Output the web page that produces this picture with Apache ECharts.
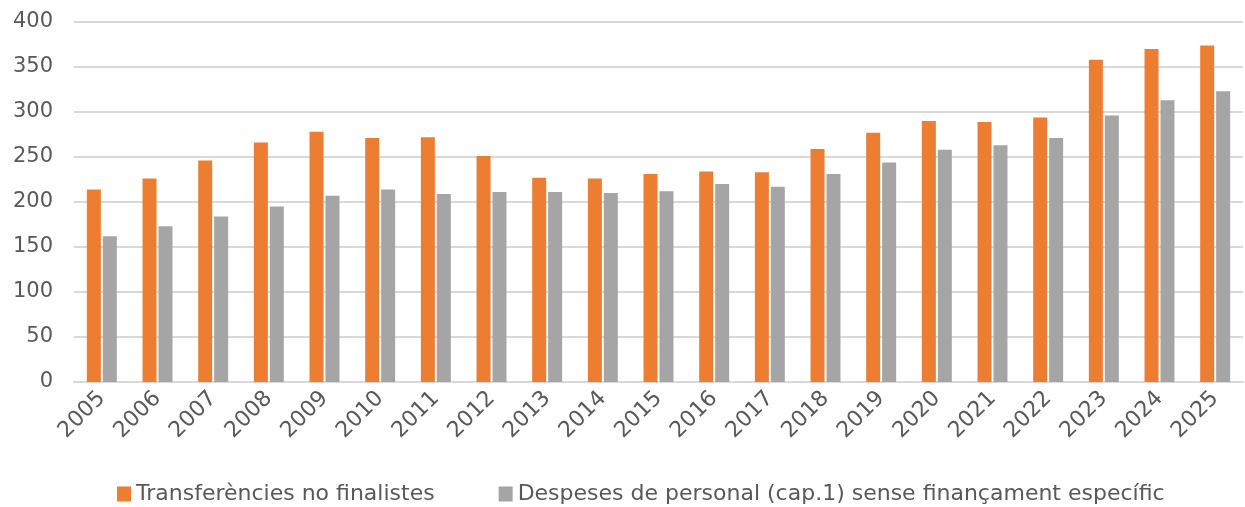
<!DOCTYPE html>
<html>
<head>
<meta charset="utf-8">
<script src="https://cdn.jsdelivr.net/npm/echarts@6/dist/echarts.min.js"></script>
<style>
  html, body { margin: 0; padding: 0; background: #fff; }
  #chart { width: 1245px; height: 507px; }
</style>
</head>
<body>
<div id="chart"></div>
<script>
// dades llegides del gràfic
var anys = ['2005','2006','2007','2008','2009','2010','2011','2012','2013','2014','2015',
            '2016','2017','2018','2019','2020','2021','2022','2023','2024','2025'];
var transferencies = [214, 226, 246, 266, 278, 271, 272, 251, 227, 226, 231,
                      234, 233, 259, 277, 290, 289, 294, 358, 370, 374];
var despesesPersonal = [162, 173, 184, 195, 207, 214, 209, 211, 211, 210, 212,
                        220, 217, 231, 244, 258, 263, 271, 296, 313, 323];
var nomsSeries = ['Transferències no finalistes',
                  'Despeses de personal (cap.1) sense finançament específic'];

var myChart = echarts.init(document.getElementById('chart'));
var font = 'DejaVu Sans';
var option = {
    animation: false,
    textStyle: { fontFamily: font },
    grid: { left: 74, right: 2, top: 22, bottom: 125 },
    legend: {
        top: 478,
        left: 112,
        itemWidth: 14,
        itemHeight: 15,
        itemGap: 64,
        icon: 'rect',
        textStyle: { fontSize: 22, color: '#595959', fontFamily: font },
        data: nomsSeries
    },
    xAxis: {
        type: 'category',
        data: anys,
        axisLine: { lineStyle: { color: '#d9d9d9', width: 2 } },
        axisTick: { show: false },
        axisLabel: { rotate: 45, fontSize: 22, color: '#595959', margin: 13, interval: 0 }
    },
    yAxis: {
        type: 'value',
        min: 0,
        max: 400,
        interval: 50,
        axisLine: { show: false },
        axisTick: { show: false },
        splitLine: { lineStyle: { color: '#d9d9d9', width: 2 } },
        axisLabel: { fontSize: 21, color: '#595959', margin: 21 }
    },
    series: [
        {
            name: nomsSeries[0],
            type: 'bar',
            data: transferencies,
            barWidth: 14,
            barGap: '14%',
            itemStyle: { color: '#ED7D31' }
        },
        {
            name: nomsSeries[1],
            type: 'bar',
            data: despesesPersonal,
            barWidth: 14,
            itemStyle: { color: '#A5A5A5' }
        }
    ]
};
myChart.setOption(option);
</script>
</body>
</html>
